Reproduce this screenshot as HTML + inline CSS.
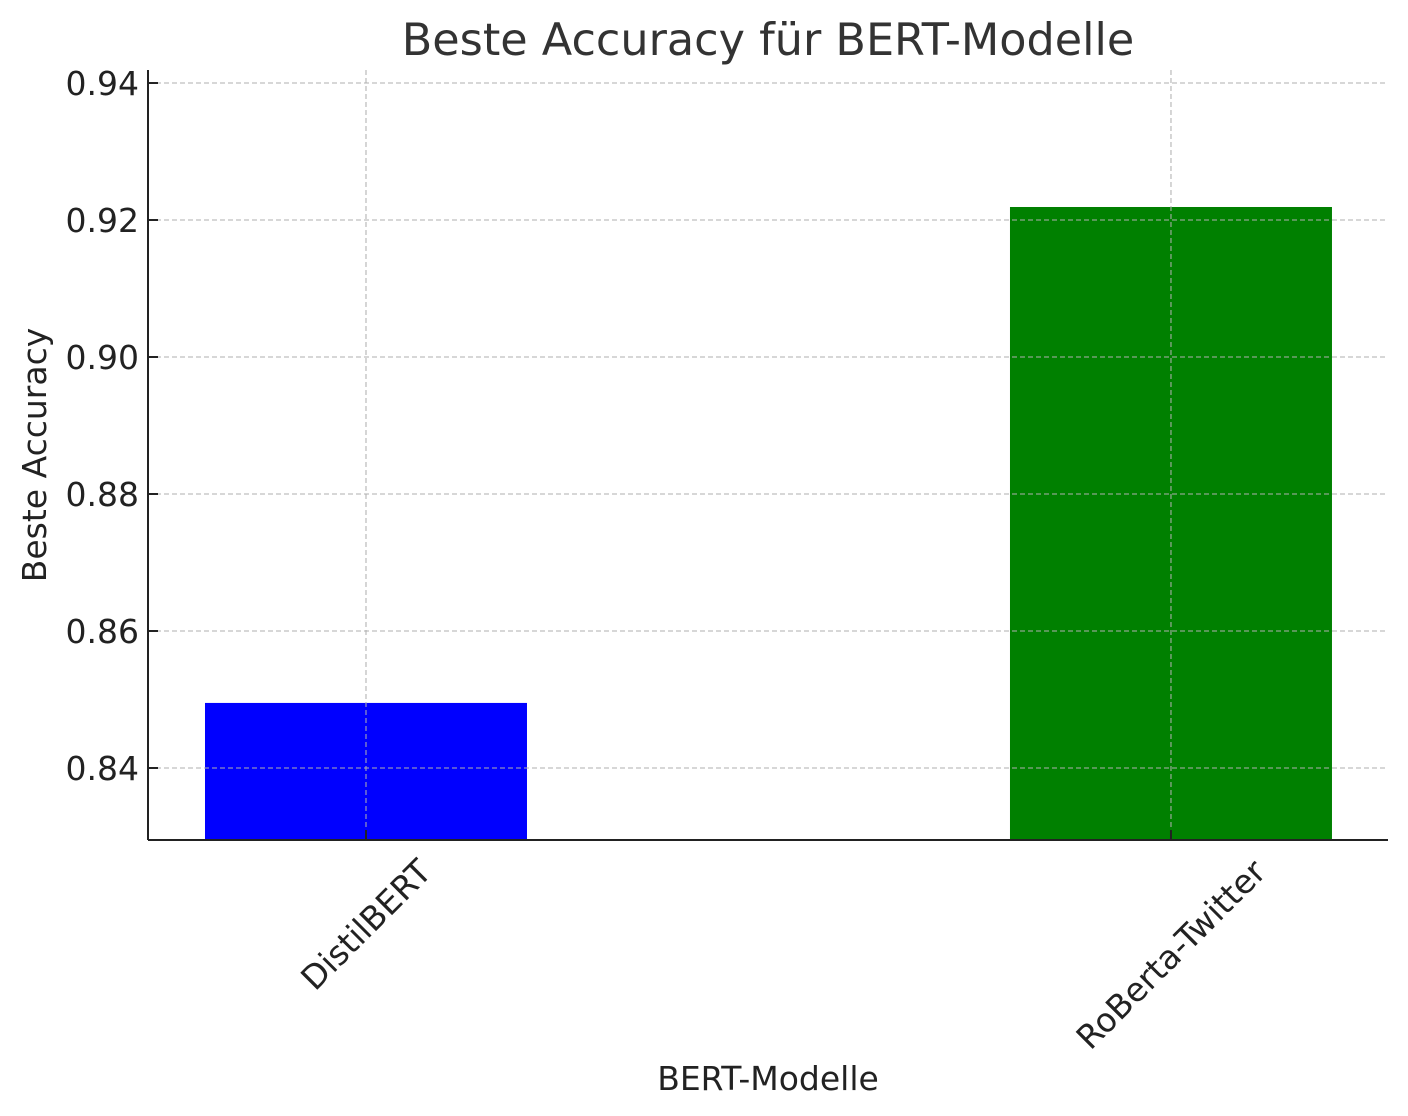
<!DOCTYPE html>
<html><head><meta charset="utf-8"><style>
html,body{margin:0;padding:0;background:#fff;}
svg{display:block;font-family:"DejaVu Sans","Liberation Sans",sans-serif;}
</style></head><body>
<svg id="chart" width="1408" height="1116" viewBox="0 0 1408 1116"></svg>
<script>
const categories = ["DistilBERT", "RoBerta-Twitter"];
const accuracyValues = [0.8495, 0.9219];
const barColors = ["#0000ff", "#008000"];
const yTicks = [0.84, 0.86, 0.88, 0.90, 0.92, 0.94];
const yTickLabels = ["0.84", "0.86", "0.88", "0.90", "0.92", "0.94"];

const NS = "http://www.w3.org/2000/svg";
const svg = document.getElementById("chart");
const L = 148, R = 1388, T = 70, B = 840;
const yMin = 0.82949, yMax = 0.94190;
const xMin = -0.2708, xMax = 1.2696;
function y(v){ return B - (v - yMin) / (yMax - yMin) * (B - T); }
function x(i){ return L + (i - xMin) / (xMax - xMin) * (R - L); }
const bw = 0.4 * (x(1) - x(0));
function mk(tag, attrs){ const e = document.createElementNS(NS, tag); for (const k in attrs) e.setAttribute(k, attrs[k]); svg.appendChild(e); return e; }

categories.forEach((c, i) => {
  const r = mk("rect", {x: x(i) - bw/2, y: y(accuracyValues[i]), width: bw, height: B - y(accuracyValues[i]), fill: barColors[i]});
  
  
});
yTicks.forEach((t, i) => {
  const g = mk("line", {x1: L, x2: R, y1: y(t), y2: y(t), stroke: "#b0b0b0", "stroke-width": 1.3, "stroke-dasharray": "5,3", opacity: 0.8});
  
  
  const tk = mk("line", {x1: L, x2: L + 10, y1: y(t), y2: y(t), stroke: "#222", "stroke-width": 2});
  
  
  const tx = mk("text", {x: L - 9, y: y(t) + 12, "text-anchor": "end", "font-size": 33, fill: "#222"});
  tx.textContent = yTickLabels[i];
  
  
});
categories.forEach((c, i) => {
  const g = mk("line", {x1: x(i), x2: x(i), y1: T, y2: B, stroke: "#b0b0b0", "stroke-width": 1.3, "stroke-dasharray": "5,3", opacity: 0.8});
  
  
  const tk = mk("line", {x1: x(i), x2: x(i), y1: B - 10, y2: B, stroke: "#222", "stroke-width": 2});
  
  
  const tx = mk("text", {x: 0, y: 0, "text-anchor": "middle", "font-size": 33, fill: "#222", "dominant-baseline": "central"});
  tx.textContent = c;
  const len = tx.getComputedTextLength();
  const cy = B + 14 + (len + 33) / Math.SQRT2 / 2;
  tx.setAttribute("x", x(i));
  tx.setAttribute("y", cy);
  tx.setAttribute("transform", `rotate(-45 ${x(i)} ${cy})`);
  
  
});
const sp1 = mk("line", {x1: L, x2: L, y1: T, y2: B, stroke: "#222", "stroke-width": 2});


const sp2 = mk("line", {x1: L, x2: R, y1: B, y2: B, stroke: "#222", "stroke-width": 2});


const t = mk("text", {x: 768, y: 55, "text-anchor": "middle", "font-size": 44.5, fill: "#333"});
t.textContent = "Beste Accuracy für BERT-Modelle";


const xt = mk("text", {x: 768, y: 1090, "text-anchor": "middle", "font-size": 33, fill: "#222"});
xt.textContent = "BERT-Modelle";


const yt = mk("text", {x: 46, y: 455, "text-anchor": "middle", "font-size": 33, fill: "#222", transform: "rotate(-90 46 455)"});
yt.textContent = "Beste Accuracy";


</script>
</body></html>
